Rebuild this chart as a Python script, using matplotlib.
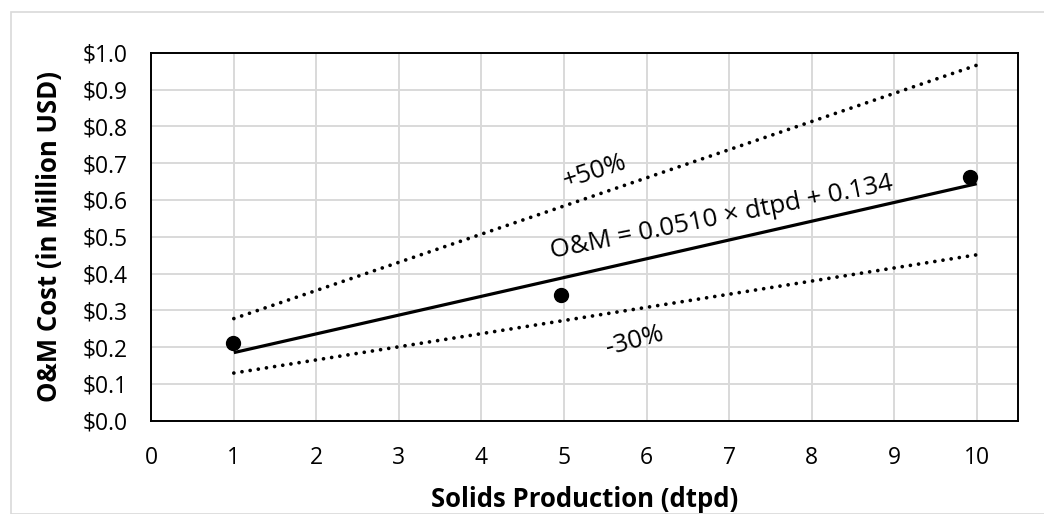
import matplotlib
matplotlib.use("Agg")
import matplotlib.pyplot as plt
from matplotlib.patches import Rectangle
from matplotlib.ticker import FuncFormatter

plt.rcParams['font.family'] = ['Open Sans', 'DejaVu Sans']

# Data
data_x = [0.99, 4.96, 9.92]
data_y = [0.212, 0.342, 0.663]
fit_x = [1, 10]
fit_y = [0.185, 0.644]
upper_y = [0.2775, 0.966]
lower_y = [0.1295, 0.4508]
x_ticks = list(range(0, 11))
y_ticks = [i / 10 for i in range(0, 11)]

W, H = 1044, 514
fig = plt.figure(figsize=(W / 100, H / 100), dpi=100)
fig.patch.set_facecolor('white')

# outer chart-area border (cropped)
fig.patches.append(Rectangle((11 / W, 0), 2.0, 1 - 12 / H, transform=fig.transFigure,
                             fill=False, edgecolor='#d9d9d9', linewidth=1.2))

ax = fig.add_axes([151.3 / W, (H - 420.7) / H, (1018 - 151.3) / W, (420.7 - 52.7) / H])
ax.set_xlim(0, 10.5)
ax.set_ylim(0, 1.0)
ax.set_xticks(x_ticks)
ax.set_yticks(y_ticks)
ax.yaxis.set_major_formatter(FuncFormatter(lambda v, p: f"${v:.1f}"))
ax.grid(True, color='#d9d9d9', linewidth=1.4)
ax.set_axisbelow(True)
for s in ax.spines.values():
    s.set_color('black')
    s.set_linewidth(1.4)
ax.tick_params(axis='both', length=0, labelsize=16.5, colors='black')
ax.tick_params(axis='y', pad=17)
ax.tick_params(axis='x', pad=18)

ax.plot(fit_x, upper_y, color='black', linewidth=2.7, linestyle=(0, (0.001, 2.2)),
        dash_capstyle='round')
ax.plot(fit_x, lower_y, color='black', linewidth=2.7, linestyle=(0, (0.001, 2.2)),
        dash_capstyle='round')
ax.plot(fit_x, fit_y, color='black', linewidth=2.3, solid_capstyle='butt')
ax.plot(data_x, data_y, 'o', color='black', markersize=10, zorder=5)

ax.text(5.37, 0.676, '+50%', fontsize=18.5, rotation=18, ha='center', va='center',
        rotation_mode='anchor')
ax.text(6.91, 0.551, 'O&M = 0.0510 × dtpd + 0.134', fontsize=18.5, rotation=11.3,
        ha='center', va='center', rotation_mode='anchor')
ax.text(5.86, 0.217, '-30%', fontsize=18.5, rotation=15, ha='center', va='center',
        rotation_mode='anchor')

ax.set_xlabel('Solids Production (dtpd)', fontsize=18.5, fontweight='bold', labelpad=12)
ax.set_ylabel('O&M Cost (in Million USD)', fontsize=18.5, fontweight='bold', labelpad=14)

fig.savefig('out.png', dpi=100, facecolor='white')
